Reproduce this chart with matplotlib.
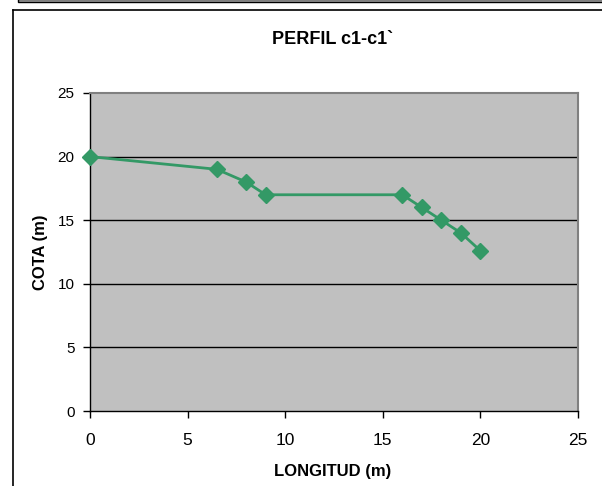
import matplotlib
matplotlib.use("Agg")
import matplotlib.pyplot as plt
from matplotlib.patches import Rectangle
from matplotlib.lines import Line2D

longitud = [0, 6.5, 8, 9, 16, 17, 18, 19, 20]
cota = [20, 19, 18, 17, 17, 16, 15, 14, 12.6]
xticks = [0, 5, 10, 15, 20, 25]
yticks = [0, 5, 10, 15, 20, 25]
title = "PERFIL c1-c1`"
xlabel = "LONGITUD (m)"
ylabel = "COTA (m)"

plt.rcParams['font.family'] = ['Liberation Sans', 'DejaVu Sans']

W, H = 602, 486
fig = plt.figure(figsize=(W / 100, H / 100), dpi=100)
fig.patch.set_facecolor('white')

# top gray strip
fig.patches.append(Rectangle((18 / W, 1 - 2 / H), 1, 3 / H, transform=fig.transFigure,
                             facecolor='#a0a0a0', edgecolor='black', linewidth=1.0))
# chart frame
fig.lines.append(Line2D([12.5 / W, 12.5 / W], [0, 1 - 10.5 / H], transform=fig.transFigure,
                        color='black', linewidth=1.2))
fig.lines.append(Line2D([12.5 / W, 1], [1 - 10.5 / H, 1 - 10.5 / H], transform=fig.transFigure,
                        color='black', linewidth=1.2))

left, right, top, bottom = 90, 578, 93, 411
ax = fig.add_axes([left / W, 1 - bottom / H, (right - left) / W, (bottom - top) / H])
ax.set_facecolor('#c0c0c0')
ax.set_xlim(0, 25)
ax.set_ylim(0, 25)
ax.set_xticks(xticks)
ax.set_yticks(yticks)
ax.set_xticklabels([str(v) for v in xticks], fontsize=12.5)
ax.set_yticklabels([str(v) for v in yticks], fontsize=11)
ax.tick_params(axis='both', direction='out', length=5, width=1, color='black')
ax.tick_params(axis='x', pad=11)
ax.tick_params(axis='y', pad=6)

for y in yticks[1:-1]:
    ax.axhline(y, color='black', linewidth=1, zorder=1)

for s in ['left', 'bottom']:
    ax.spines[s].set_color('black')
    ax.spines[s].set_linewidth(1)
for s in ['top', 'right']:
    ax.spines[s].set_color('#808080')
    ax.spines[s].set_linewidth(1.5)

ax.plot(longitud, cota, color='#339966', linewidth=2, marker='D', markersize=8,
        markerfacecolor='#339966', markeredgecolor='#339966', zorder=3, clip_on=False)

fig.text(333 / W, 1 - 40 / H, title, ha='center', va='center', fontsize=13, fontweight='bold')
fig.text(333 / W, 1 - 471 / H, xlabel, ha='center', va='center', fontsize=12, fontweight='bold')
fig.text(40 / W, 1 - 252 / H, ylabel, ha='center', va='center', fontsize=12, fontweight='bold',
         rotation=90)

fig.savefig('out.png', dpi=100)
